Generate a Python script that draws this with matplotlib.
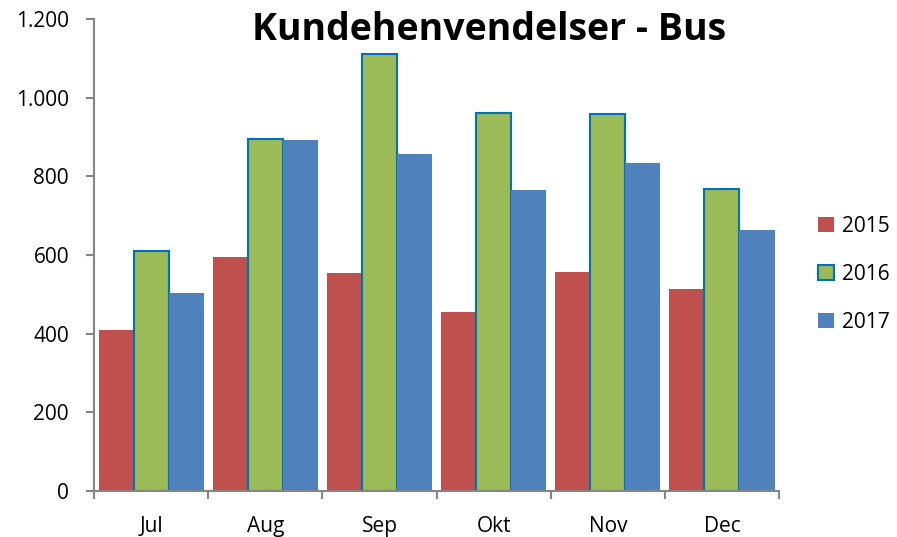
import numpy as np
import matplotlib.pyplot as plt
from matplotlib.ticker import FuncFormatter, FixedLocator

months = ["Jul", "Aug", "Sep", "Okt", "Nov", "Dec"]
years = ["2015", "2016", "2017"]
v2015 = [409, 595, 554, 455, 557, 514]
v2016 = [610, 895, 1111, 961, 958, 768]
v2017 = [503, 892, 857, 765, 834, 664]

plt.rcParams['font.family'] = ['Open Sans', 'DejaVu Sans']

fig = plt.figure(figsize=(8.97, 5.37), dpi=100)
ax = fig.add_axes([0.1048, 0.0857, 0.7637, 0.8789])

x = np.arange(len(months))
w = 0.307
ax.bar(x - w, v2015, w, color="#C0504D", label=years[0])
ax.bar(x, v2016, w, color="#9BBB59", edgecolor="#0070C0", linewidth=1.5, label=years[1])
ax.bar(x + w, v2017, w, color="#4F81BD", label=years[2])

ax.set_xlim(-0.5, len(months) - 0.5)
ax.set_ylim(0, 1200)
ax.set_yticks(range(0, 1201, 200))
ax.yaxis.set_major_formatter(FuncFormatter(lambda v, p: f"{int(v):,}".replace(",", ".")))
ax.set_xticks(x)
ax.set_xticklabels(months)
ax.xaxis.set_minor_locator(FixedLocator(np.arange(-0.5, len(months), 1)))
ax.tick_params(axis="x", which="major", length=0, pad=18, labelsize=15)
ax.tick_params(axis="x", which="minor", length=6, width=1.5, color="#868686")
ax.tick_params(axis="y", length=6, width=1.5, color="#868686", pad=12, labelsize=15)

for s in ["top", "right"]:
    ax.spines[s].set_visible(False)
for s in ["left", "bottom"]:
    ax.spines[s].set_color("#868686")
    ax.spines[s].set_linewidth(1.5)

fig.text(0.545, 0.945, "Kundehenvendelser - Bus", ha="center", va="center",
         fontsize=27, fontweight="bold")

ax.legend(loc="center left", bbox_to_anchor=(1.03, 0.459), frameon=False,
          fontsize=15, handlelength=0.75, handleheight=0.75, labelspacing=1.3,
          handletextpad=0.4)

fig.savefig("out.png", dpi=100)
